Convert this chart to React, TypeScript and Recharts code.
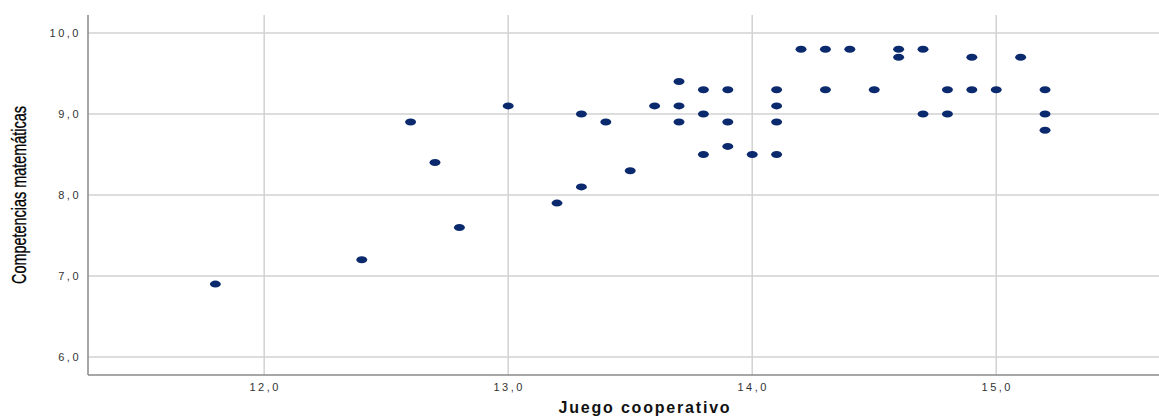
import { CartesianGrid, Label, Scatter, ScatterChart, XAxis, YAxis } from "recharts";

// Dispersión estilo SPSS: juego cooperativo vs competencias matemáticas.

const juego = [
  11.8, 12.4, 12.6, 12.7, 12.8, 13.0, 13.2, 13.3, 13.3, 13.4, 13.5, 13.6, 13.7, 13.7, 13.7,
  13.8, 13.8, 13.8, 13.9, 13.9, 13.9, 14.0, 14.1, 14.1, 14.1, 14.1, 14.2, 14.3, 14.3, 14.4,
  14.5, 14.6, 14.6, 14.7, 14.7, 14.8, 14.8, 14.9, 14.9, 15.0, 15.1, 15.2, 15.2, 15.2,
];
const competencias = [
  6.9, 7.2, 8.9, 8.4, 7.6, 9.1, 7.9, 9.0, 8.1, 8.9, 8.3, 9.1, 9.4, 9.1, 8.9,
  9.3, 9.0, 8.5, 9.3, 8.9, 8.6, 8.5, 9.3, 9.1, 8.9, 8.5, 9.8, 9.8, 9.3, 9.8,
  9.3, 9.8, 9.7, 9.8, 9.0, 9.3, 9.0, 9.7, 9.3, 9.3, 9.7, 9.3, 9.0, 8.8,
];
const xTicks = [12, 13, 14, 15];
const yTicks = [6, 7, 8, 9, 10];

const points = juego.map((x, i) => ({ x, y: competencias[i] }));

const fmt = (v: number) => v.toFixed(1).replace(".", ",");
const tickStyle = {
  fill: "#333",
  fontSize: 11,
  letterSpacing: 2.5,
  fontFamily: "Liberation Sans, Arial, sans-serif",
};

function Dot(props: { cx?: number; cy?: number }) {
  const { cx = 0, cy = 0 } = props;
  return <ellipse cx={cx} cy={cy} rx={5.5} ry={3.5} fill="#0b2a6e" />;
}

export default function App() {
  return (
    <div style={{ position: "absolute", left: 0, top: 0, width: 1159, height: 418, background: "#fff" }}>
      <ScatterChart width={1159} height={418} margin={{ top: 15, right: 0, bottom: 0, left: 0 }}>
        <CartesianGrid
          stroke="#d2d2d2"
          strokeWidth={1.5}
          horizontalValues={yTicks}
          verticalValues={xTicks}
        />
        <XAxis
          type="number"
          dataKey="x"
          domain={[11.278, 15.667]}
          ticks={xTicks}
          tickFormatter={fmt}
          tick={{ ...tickStyle, dx: 1 }}
          tickLine={false}
          axisLine={{ stroke: "#8a8a8a", strokeWidth: 1.5 }}
          height={43}
          allowDataOverflow
        >
          <Label
            content={() => (
              <text
                x={645}
                y={413}
                textAnchor="middle"
                fontSize={16}
                fontWeight="bold"
                letterSpacing={1.8}
                fill="#111"
                fontFamily="Liberation Sans, Arial, sans-serif"
              >
                Juego cooperativo
              </text>
            )}
          />
        </XAxis>
        <YAxis
          type="number"
          dataKey="y"
          domain={[5.778, 10.222]}
          ticks={yTicks}
          tickFormatter={fmt}
          tick={{ ...tickStyle, dx: 1 }}
          tickLine={false}
          axisLine={{ stroke: "#8a8a8a", strokeWidth: 1.5 }}
          width={88}
          allowDataOverflow
        >
          <Label
            content={() => (
              <text
                x={0}
                y={0}
                transform="translate(26,195) rotate(-90) scale(0.74,1)"
                textAnchor="middle"
                fontSize={19.5}
                stroke="#000"
                strokeWidth={0.3}
                fill="#000"
                fontFamily="Liberation Sans, Arial, sans-serif"
              >
                Competencias matemáticas
              </text>
            )}
          />
        </YAxis>
        <Scatter data={points} shape={<Dot />} isAnimationActive={false} />
      </ScatterChart>
    </div>
  );
}
